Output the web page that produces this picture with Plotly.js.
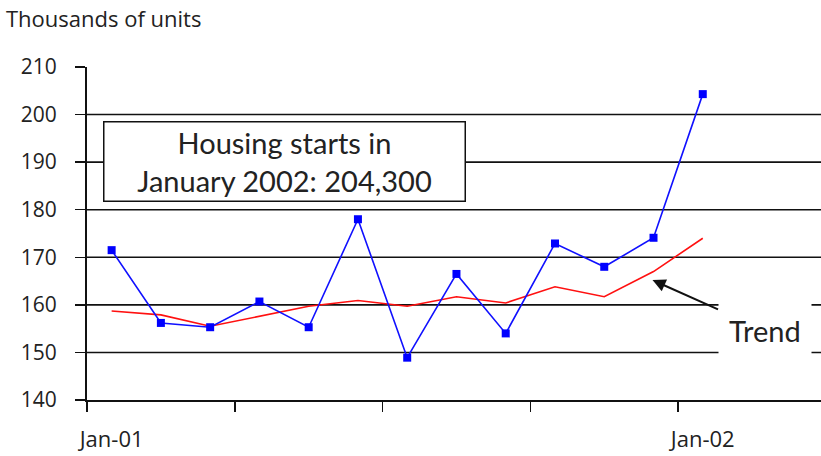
<!DOCTYPE html>
<html>
<head>
<meta charset="utf-8">
<script src="https://cdn.plot.ly/plotly-3.0.1.min.js"></script>
<style>
html,body{margin:0;padding:0;background:#fff;}
#chart{width:821px;height:456px;}
</style>
</head>
<body>
<div id="chart"></div>
<script>
var months = ["Jan-01","Feb-01","Mar-01","Apr-01","May-01","Jun-01","Jul-01","Aug-01","Sep-01","Oct-01","Nov-01","Dec-01","Jan-02"];
var housingStarts = [171.5,156.2,155.3,160.7,155.3,178.0,148.9,166.5,154.0,172.9,168.0,174.1,204.3];
var trend = [158.7,157.9,155.5,157.6,159.7,160.9,159.7,161.7,160.4,163.8,161.7,167.0,174.0];
var xLabelVals = [0,12];
var xLabelText = ["Jan-01","Jan-02"];
var xTickMarks = [-0.5,2.5,5.5,8.5,11.5,14.5];
var yTickVals = [140,150,160,170,180,190,200,210];
var yTickText = ["140","150","160","170","180","190","200","210"];
var gridVals = [150,160,170,180,190,200];

var idx = months.map(function(m,i){return i;});

var traces = [
  {x: idx, y: trend, type:'scatter', mode:'lines', line:{color:'#ff1010', width:1.6}, hoverinfo:'skip', cliponaxis:false},
  {x: idx, y: housingStarts, type:'scatter', mode:'lines+markers', line:{color:'#1010ff', width:1.6},
   marker:{symbol:'square', size:8, color:'#0000ff'}, cliponaxis:false}
];

var shapes = gridVals.map(function(v){
  return {type:'line', xref:'paper', yref:'y', x0:0, x1:1, y0:v, y1:v, layer:'below', line:{color:'#111', width:1.6}};
});

var boxFont = 'Lato, "Open Sans", sans-serif';
var axFont = '"Open Sans", Lato, sans-serif';

var layout = {
  width:821, height:456,
  margin:{l:87, r:0, t:67, b:56},
  paper_bgcolor:'#fff', plot_bgcolor:'#fff',
  showlegend:false,
  font:{family:axFont, color:'#111'},
  xaxis:{
    range:[-0.5,14.4], tickmode:'array', tickvals:xLabelVals, ticktext:xLabelText,
    showgrid:false, zeroline:false, showline:true, linecolor:'#111', linewidth:2,
    ticks:'outside', ticklen:10, tickwidth:1, tickcolor:'rgba(0,0,0,0)',
    minor:{tickmode:'array', tickvals:xTickMarks, ticks:'outside', ticklen:10, tickwidth:1.5, tickcolor:'#111', showgrid:false},
    tickfont:{size:22, family:axFont, color:'#222'}, ticklabelstandoff:9
  },
  yaxis:{
    range:[140,210], tickmode:'array', tickvals:yTickVals, ticktext:yTickText,
    showgrid:false, zeroline:false, showline:true, linecolor:'#111', linewidth:2,
    ticks:'outside', ticklen:10, tickwidth:1.5, tickcolor:'#111',
    tickfont:{size:21, family:axFont, color:'#222'}, ticklabelstandoff:14
  },
  shapes: shapes,
  annotations:[
    {xref:'paper', yref:'paper', x:-0.113, y:1.147, xanchor:'left', yanchor:'middle', showarrow:false,
     text:'Thousands of units', font:{size:22, family:axFont, color:'#222'}},
    {xref:'paper', yref:'paper', x:0.269, y:0.715, xanchor:'center', yanchor:'middle', showarrow:false,
     text:'Housing starts in<br>January 2002: 204,300', font:{size:29, family:boxFont, color:'#222'},
     bgcolor:'#fff', bordercolor:'#111', borderwidth:1.5, width:358, height:76, align:'center'},
    {xref:'x', yref:'y', x:10.98, y:165.2, axref:'pixel', ayref:'pixel', ax:112, ay:50,
     showarrow:true, arrowhead:2, arrowsize:1.3, arrowwidth:2, arrowcolor:'#111',
     text:'Trend', font:{size:29, family:boxFont, color:'#222'}, bgcolor:'#fff', borderpad:10}
  ]
};

Plotly.newPlot('chart', traces, layout, {displayModeBar:false, staticPlot:true});
</script>
</body>
</html>
